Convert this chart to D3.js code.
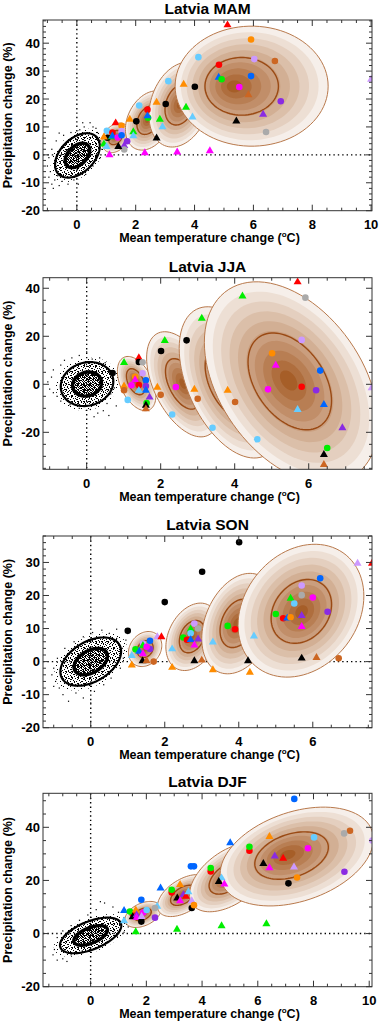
<!DOCTYPE html>
<html>
<head>
<meta charset="utf-8">
<script src="https://cdnjs.cloudflare.com/ajax/libs/d3/7.8.5/d3.min.js"></script>
<style>
  body { margin: 0; background: #fff; }
  svg { display: block; }
  text { font-family: "Liberation Sans", Arial, sans-serif; font-weight: bold; fill: #000; }
</style>
</head>
<body>
<script>
const width = 380;
const height = 1021;

// ---- data ----
// model colours (index used in the marker arrays), 0 = circle, 1 = triangle
const modelColors = ["#000000", "#ff0000", "#ff8c00", "#66ccff", "#cc99ff", "#cc6622",
                     "#0066ff", "#00ee00", "#ff00ff", "#8a2be2", "#aaaaaa"];

const seasons = ["Latvia MAM", "Latvia JJA", "Latvia SON", "Latvia DJF"];

const mamXTicks = [0, 2, 4, 6, 8, 10];
const mamYTicks = [-20, -10, 0, 10, 20, 30, 40];
const jjaXTicks = [0, 2, 4, 6];
const jjaYTicks = [-20, 0, 20, 40];
const sonXTicks = [0, 2, 4, 6];
const sonYTicks = [-20, -10, 0, 10, 20, 30];
const djfXTicks = [0, 2, 4, 6, 8, 10];
const djfYTicks = [-20, 0, 20, 40];

// natural variability ellipse: [meanT, meanP, halfRangeT, halfRangeP, corr]
const mamNoise = [0.02, -0.2, 0.76, 7.95, 0.42];
const jjaNoise = [0.01, 0.1, 0.71, 9.15, 0.12];
const sonNoise = [0.0, 0.0, 0.82, 7.3, 0.42];
const djfNoise = [0.0, -0.7, 1.1, 6.7, 0.55];

// scattered natural variability samples outside the dense core
const mamScatter = [[-0.85,-10.5],[-0.8,-12],[-0.95,-8],[-0.9,-6],[-1.0,-4],[-0.75,-9],[-0.6,-11],[-0.5,-9.5],[-0.3,-10.5],[-0.1,-9],[0.05,-10.5],[0.0,-8.5],[0.3,-7],[0.55,-4],[0.8,-1],[0.85,2],[0.8,5],[0.7,8],[0.55,10],[0.45,11.5],[0.25,10],[0.1,9],[-0.2,8],[-0.45,7],[-0.7,5],[-0.85,2],[-0.95,-1],[0.65,9.5],[0.9,4],[-0.65,-7.5],[-0.6,7.8],[0.2,11.5]];
const jjaScatter = [[-1.05,1],[-1.0,-2],[-0.95,3],[-0.9,6],[-0.8,-5],[-0.7,8],[-0.6,10],[-0.4,11],[-0.2,12],[0.0,13.5],[0.15,10.5],[0.35,11],[0.5,9],[0.6,6],[0.7,2],[0.65,-4],[0.55,-8],[0.45,-11],[0.3,-12],[0.6,-13],[0.1,-10.5],[-0.2,-10],[-0.45,-8.5],[-0.7,-7],[-0.9,-3.5],[0.75,-1.5],[0.8,-9],[0.2,-13.5]];
const sonScatter = [[-1.05,-4],[-1.0,-2],[-0.95,-6],[-0.85,-8],[-0.75,-10],[-0.6,-12],[-0.4,-9.5],[-0.2,-11],[0.0,-12.5],[0.1,-9],[0.35,-7],[0.55,-5],[0.8,-2],[0.88,1],[0.85,4],[0.7,7],[0.5,8.5],[0.3,9.5],[0.05,8.8],[-0.2,7.5],[-0.45,6],[-0.7,4],[-0.9,1],[0.95,6.5],[0.7,9.8],[-1.0,-7.5]];
const djfScatter = [[-1.35,-8],[-1.3,-6],[-1.2,-10],[-1.1,-4],[-1.0,-9.5],[-0.85,-10.5],[-0.7,-8],[-0.5,-7.5],[-0.3,-6.5],[0.0,-6],[0.3,-4.5],[0.6,-3],[0.95,-1],[1.2,0.5],[1.35,2.5],[1.4,4.5],[1.2,6],[1.0,8],[0.8,10],[0.5,11.5],[0.2,9],[-0.1,7],[-0.4,5],[-0.7,3],[-1.0,1],[-1.2,-1.5],[1.25,9],[0.35,12]];

// projected distributions: [meanT, meanP, halfRangeT, halfRangeP, corr, modeT, modeP]
const mamDists = [
  [1.32, 6.1, 0.47, 5.3, 0.3, 1.3, 6.3],
  [2.45, 12.3, 0.8, 10.6, 0.3, 2.4, 12.5],
  [3.5, 18.0, 1.05, 15.2, 0.25, 3.5, 18.0],
  [5.94, 24.6, 2.6, 21.5, 0.0, 5.29, 24.5]
];
const jjaDists = [
  [1.35, 0.3, 0.52, 11.3, -0.45, 1.3, 1.8],
  [2.6, 0.0, 0.98, 21.9, -0.5, 2.6, 0.3],
  [3.9, 0.8, 1.4, 31.5, -0.45, 3.85, 1.0],
  [5.53, 0.7, 2.35, 42.0, -0.4, 5.45, 1.7]
];
const sonDists = [
  [1.47, 3.8, 0.45, 5.3, 0.2, 1.47, 3.8],
  [2.75, 7.5, 0.72, 10.2, 0.3, 2.73, 7.6],
  [4.0, 11.5, 1.0, 15.2, 0.3, 3.95, 11.6],
  [5.68, 15.4, 1.7, 20.1, 0.22, 5.7, 15.0]
];
const djfDists = [
  [1.88, 7.2, 0.65, 4.9, 0.4, 1.85, 7.3],
  [3.35, 14.3, 0.95, 7.9, 0.5, 3.3, 14.5],
  [5.0, 21.2, 1.45, 13.0, 0.5, 4.9, 21.0],
  [7.4, 29.0, 2.75, 18.6, 0.35, 7.04, 29.7]
];

// model projections: [dT, dP, model, shape]
const mamModels = [
  [5.12,46.5,1,1],[5.92,41.3,2,0],[4.13,35.0,3,0],[6.03,34.3,4,0],[6.73,33.6,5,0],[4.83,32.3,1,0],
  [4.82,27.7,6,1],[4.92,27.1,7,0],[5.92,28.2,6,0],[5.52,24.3,8,0],[3.63,25.2,2,1],[4.01,24.4,0,0],
  [5.83,21.5,5,1],[6.93,19.2,9,0],[6.33,14.5,9,1],[5.42,12.1,0,1],[6.43,8.2,10,0],[10.0,27.0,4,1],
  [3.11,26.4,3,0],[2.71,18.8,2,1],[3.02,18.2,0,0],[3.71,17.0,7,1],[3.93,13.5,3,1],[2.12,17.7,3,0],
  [2.40,16.2,1,0],[2.42,13.3,7,0],[2.40,13.9,6,1],[1.80,12.7,2,1],[2.02,12.0,0,0],[2.82,12.7,7,1],
  [2.91,10.0,3,1],[2.71,6.0,0,1],[1.32,11.4,1,1],[1.02,8.6,3,0],[1.52,10.4,2,0],[1.92,8.2,7,1],
  [1.92,6.8,3,1],[1.04,6.1,0,0],[1.21,8.0,1,0],[1.52,8.5,4,0],[1.19,6.4,7,1],[1.21,6.7,6,1],
  [0.92,6.3,2,1],[1.39,6.2,8,0],[1.52,7.0,6,0],[1.71,4.9,9,0],[1.61,3.3,9,1],[1.61,1.9,10,0],
  [1.41,2.9,0,1],[0.92,3.8,7,1],[1.01,2.9,3,1],[1.11,0.0,8,1],[2.31,0.7,8,1],[3.41,1.0,8,1],[4.52,1.4,8,1]
];
const jjaModels = [
  [5.70,42.6,1,1],[4.21,36.7,7,1],[5.91,36.1,10,0],[3.11,27.4,7,1],[2.70,18.3,0,0],[2.11,18.2,7,1],
  [5.81,18.5,4,0],[2.01,13.9,0,0],[5.01,12.9,2,0],[5.11,7.9,8,1],[6.31,5.7,6,0],[1.01,9.0,7,1],
  [1.41,11.0,1,1],[1.41,9.3,0,0],[1.51,9.2,10,0],[0.70,4.7,0,0],[1.51,4.6,4,0],[1.31,3.1,2,0],
  [1.31,1.8,8,1],[1.60,1.7,6,0],[1.21,-0.4,8,0],[1.41,-0.3,1,0],[1.60,-0.7,9,0],[1.60,-2.5,6,1],
  [1.01,-0.8,2,1],[1.01,-2.5,5,0],[1.41,-2.6,3,1],[1.70,-5.4,9,1],[1.11,-6.5,3,0],[1.62,-7.8,7,0],
  [1.60,-8.8,0,1],[1.60,-10.3,5,1],[1.91,-1.25,2,1],[2.00,-4.4,5,0],[2.41,-1.1,8,0],[2.91,-2.1,2,1],
  [3.00,-6.0,5,0],[2.31,-12.6,3,0],[3.81,-2.5,2,1],[4.01,-7.4,5,0],[3.40,-18.1,3,0],[4.61,-22.9,3,0],
  [4.90,-2.1,8,0],[5.81,-1.0,1,0],[6.20,-2.5,9,0],[6.41,-8.5,6,1],[5.70,-10.6,3,1],[6.91,-18.2,9,1],
  [6.50,-26.5,7,0],[6.41,-29.3,0,1],[6.41,-33.5,5,1],[7.70,-1.5,4,1]
];
const sonModels = [
  [4.01,36.1,0,0],[3.01,27.2,0,0],[2.00,18.0,0,0],[1.00,9.3,0,0],[7.21,29.7,4,1],[7.60,29.7,1,1],
  [6.20,25.2,6,0],[5.70,23.0,4,0],[5.70,20.1,10,0],[6.00,19.4,8,0],[5.40,19.1,7,1],[5.50,17.6,3,0],
  [6.40,15.1,9,0],[5.00,14.4,7,0],[5.20,13.1,1,0],[5.31,13.1,6,1],[5.40,13.4,2,0],[5.70,13.9,9,1],
  [5.70,10.6,8,1],[5.70,1.0,0,1],[6.10,1.2,5,1],[6.70,1.0,5,0],[3.70,10.8,7,0],[3.90,9.8,1,0],
  [4.41,7.7,3,1],[4.25,0.2,0,1],[4.30,-3.3,2,1],[2.80,11.5,4,0],[2.90,10.0,10,0],[2.70,9.8,7,1],
  [2.70,8.6,3,0],[2.50,7.3,7,0],[2.60,6.6,1,0],[2.70,6.6,6,1],[2.90,6.8,9,1],[2.80,5.0,8,1],
  [3.30,5.9,3,1],[2.80,0.2,0,1],[3.00,0.4,5,1],[3.30,-2.5,2,1],[2.20,3.8,3,1],[2.20,-1.8,2,1],
  [1.11,1.8,3,1],[1.11,-1.1,2,1],[1.40,0.2,0,1],[1.51,0.2,5,1],[1.70,0.0,5,0],[1.80,7.5,4,1],
  [1.91,7.5,1,1],[1.60,6.3,6,0],[1.60,3.8,9,0],[1.41,5.5,4,0],[1.41,4.8,7,1],[1.21,3.7,7,0],
  [1.51,4.5,8,0],[1.31,3.1,6,1],[1.41,2.3,8,1]
];
const djfModels = [
  [7.31,50.7,6,0],[9.31,38.7,5,0],[9.10,37.7,10,0],[10.11,35.0,4,0],[8.02,36.2,3,0],[6.42,36.5,2,1],
  [7.80,32.1,8,0],[6.61,29.1,9,1],[6.91,28.3,1,1],[6.20,26.3,0,1],[6.42,24.7,8,1],[7.30,25.0,4,1],
  [9.11,23.3,9,0],[7.41,21.1,2,0],[7.10,18.9,0,0],[5.70,31.2,1,0],[5.70,32.7,7,0],[5.01,34.1,6,1],
  [4.31,23.4,1,0],[4.31,24.7,7,0],[4.70,20.9,3,1],[4.60,19.5,0,1],[4.80,18.6,8,1],[3.60,25.3,6,0],
  [3.71,25.3,6,0],[2.51,17.1,6,1],[3.21,18.4,2,1],[2.91,15.5,1,0],[2.91,16.5,7,0],[3.11,13.3,0,1],
  [3.33,14.6,9,1],[3.42,14.0,1,1],[3.51,15.7,3,1],[3.63,12.3,4,1],[3.21,12.3,8,1],[3.63,9.6,0,0],
  [3.71,10.7,2,0],[1.82,12.7,6,0],[1.20,8.6,6,1],[1.20,4.8,3,1],[1.51,7.4,1,0],[1.41,8.3,7,0],
  [1.62,8.8,2,1],[1.51,6.3,0,1],[1.65,7.0,9,1],[1.65,6.0,8,1],[1.82,4.5,0,0],[1.89,7.9,8,0],
  [2.01,8.9,3,0],[1.83,6.4,4,1],[2.39,10.2,3,1],[2.31,9.6,10,0],[2.31,6.0,9,0],[1.62,0.6,7,1],
  [3.10,1.6,7,1],[4.70,2.9,7,1],[6.31,3.6,7,1]
];

// ---- layout ----
const plotLeft = 43, plotRight = 372;
const panels = [
  { title: seasons[0], top: 20, bottom: 210.7, xDomain: [-1.15, 10.03], yDomain: [-20, 48.3],
    xTicks: mamXTicks, yTicks: mamYTicks, yMinor: 2, noise: mamNoise, scatter: mamScatter, dists: mamDists, models: mamModels, hLine: true },
  { title: seasons[1], top: 277.7, bottom: 469.3, xDomain: [-1.18, 7.71], yDomain: [-35.4, 44.4],
    xTicks: jjaXTicks, yTicks: jjaYTicks, yMinor: 5, noise: jjaNoise, scatter: jjaScatter, dists: jjaDists, models: jjaModels, hLine: false },
  { title: seasons[2], top: 536, bottom: 727.7, xDomain: [-1.29, 7.6], yDomain: [-20, 38],
    xTicks: sonXTicks, yTicks: sonYTicks, yMinor: 2, noise: sonNoise, scatter: sonScatter, dists: sonDists, models: sonModels, hLine: true },
  { title: seasons[3], top: 793.3, bottom: 986.7, xDomain: [-1.71, 10.1], yDomain: [-20, 52.8],
    xTicks: djfXTicks, yTicks: djfYTicks, yMinor: 5, noise: djfNoise, scatter: djfScatter, dists: djfDists, models: djfModels, hLine: true }
];

const svg = d3.select("body").append("svg")
  .attr("width", width)
  .attr("height", height);

// speckle textures for the dense natural-variability cloud
const defs = svg.append("defs");
const speckles = [
  { id: "spk-sparse", size: 7, dots: [[0,0],[4,2],[1,4],[5,6]] },
  { id: "spk-mid", size: 6, dots: [[0,0],[3,0],[5,1],[1,2],[4,3],[2,4],[0,5],[5,5]] },
  { id: "spk-dense", size: 5, dots: [[0,0],[1,0],[3,0],[2,1],[4,1],[0,2],[3,2],[1,3],[4,3],[2,4],[3,4]] }
];
speckles.forEach(p => {
  const pat = defs.append("pattern").attr("id", p.id)
    .attr("patternUnits", "userSpaceOnUse")
    .attr("width", p.size).attr("height", p.size);
  pat.selectAll("rect").data(p.dots).join("rect")
    .attr("x", d => d[0]).attr("y", d => d[1])
    .attr("width", 1).attr("height", 1).attr("fill", "#000");
});

const shade = d3.interpolateRgb("#f6efea", "#a65e28");
const nBands = 10;

function ellipsePts(cx, cy, rx, ry, rho, s) {
  const q = Math.sqrt(1 - rho * rho);
  return d3.range(0, 360, 4).map(a => {
    const t = a * Math.PI / 180, u = Math.cos(t), v = Math.sin(t);
    return [cx + s * rx * u, cy + s * ry * (rho * u + q * v)];
  });
}

panels.forEach((p, pi) => {
  const x = d3.scaleLinear().domain(p.xDomain).range([plotLeft, plotRight]);
  const y = d3.scaleLinear().domain(p.yDomain).range([p.bottom, p.top]);
  const line = d3.line().x(d => x(d[0])).y(d => y(d[1])).curve(d3.curveLinearClosed);

  const g = svg.append("g");
  const clipId = "clip" + pi;
  defs.append("clipPath").attr("id", clipId).append("rect")
    .attr("x", plotLeft).attr("y", p.top)
    .attr("width", plotRight - plotLeft).attr("height", p.bottom - p.top);

  const plot = g.append("g").attr("clip-path", `url(#${clipId})`);

  // zero lines
  plot.append("line")
    .attr("x1", x(0)).attr("x2", x(0)).attr("y1", p.top).attr("y2", p.bottom)
    .attr("stroke", "#000").attr("stroke-width", 1.4).attr("stroke-dasharray", "1.4 3");
  if (p.hLine) {
    plot.append("line")
      .attr("x1", plotLeft).attr("x2", plotRight).attr("y1", y(0)).attr("y2", y(0))
      .attr("stroke", "#000").attr("stroke-width", 1.4).attr("stroke-dasharray", "1.4 3");
  }

  // natural variability cloud
  const [nx, ny, nrx, nry, nrho] = p.noise;
  plot.append("path").attr("d", line(ellipsePts(nx, ny, nrx, nry, nrho, 1.2))).attr("fill", "url(#spk-sparse)");
  plot.append("path").attr("d", line(ellipsePts(nx, ny, nrx, nry, nrho, 1.0))).attr("fill", "url(#spk-mid)");
  plot.append("path").attr("d", line(ellipsePts(nx, ny, nrx, nry, nrho, 0.55))).attr("fill", "url(#spk-dense)");
  plot.append("g").selectAll("rect").data(p.scatter).join("rect")
    .attr("x", d => x(d[0]) - 0.6).attr("y", d => y(d[1]) - 0.6)
    .attr("width", 1.2).attr("height", 1.2).attr("fill", "#000");
  plot.append("path").attr("d", line(ellipsePts(nx, ny, nrx, nry, nrho, 1.0)))
    .attr("fill", "none").attr("stroke", "#000").attr("stroke-width", 2.2);
  plot.append("path").attr("d", line(ellipsePts(nx, ny, nrx, nry, nrho, 0.55)))
    .attr("fill", "none").attr("stroke", "#000").attr("stroke-width", 3.4);

  // projected distributions, shaded
  p.dists.forEach(dd => {
    const [cx, cy, rx, ry, rho, mx, my] = dd;
    const dg = plot.append("g");
    for (let i = 0; i < nBands; i++) {
      const s = 1 - i / nBands;
      dg.append("path")
        .attr("d", line(ellipsePts(mx + s * (cx - mx), my + s * (cy - my), rx, ry, rho, s)))
        .attr("fill", shade(i / (nBands - 1)));
    }
    dg.append("path").attr("d", line(ellipsePts(cx, cy, rx, ry, rho, 1)))
      .attr("fill", "none").attr("stroke", "#b8794c").attr("stroke-width", 1);
    const si = 0.48;
    dg.append("path").attr("d", line(ellipsePts(mx + si * (cx - mx), my + si * (cy - my), rx, ry, rho, si)))
      .attr("fill", "none").attr("stroke", "#9a4a14").attr("stroke-width", 1.4);
  });

  // model markers
  const tri = d3.symbol(d3.symbolTriangle, 28);
  plot.append("g").selectAll("path").data(p.models).join("path")
    .attr("transform", d => `translate(${x(d[0])},${y(d[1])})`)
    .attr("d", d => d[3] === 1 ? tri() : d3.symbol(d3.symbolCircle, 34)())
    .attr("fill", d => modelColors[d[2]]);

  // frame
  g.append("rect")
    .attr("x", plotLeft).attr("y", p.top)
    .attr("width", plotRight - plotLeft).attr("height", p.bottom - p.top)
    .attr("fill", "none").attr("stroke", "#333").attr("stroke-width", 1);

  // ticks on all four sides, inward
  const xMinor = d3.range(Math.ceil(p.xDomain[0] / 0.5) * 0.5, p.xDomain[1] + 1e-9, 0.5);
  const yMinor = d3.range(Math.ceil(p.yDomain[0] / p.yMinor) * p.yMinor, p.yDomain[1] + 1e-9, p.yMinor);
  const tk = g.append("g").attr("stroke", "#333").attr("stroke-width", 1);
  xMinor.forEach(v => {
    const len = p.xTicks.includes(Math.round(v * 100) / 100) ? 6 : 3;
    tk.append("line").attr("x1", x(v)).attr("x2", x(v)).attr("y1", p.bottom).attr("y2", p.bottom - len);
    tk.append("line").attr("x1", x(v)).attr("x2", x(v)).attr("y1", p.top).attr("y2", p.top + len);
  });
  yMinor.forEach(v => {
    const len = p.yTicks.includes(Math.round(v * 100) / 100) ? 6 : 3;
    tk.append("line").attr("y1", y(v)).attr("y2", y(v)).attr("x1", plotLeft).attr("x2", plotLeft + len);
    tk.append("line").attr("y1", y(v)).attr("y2", y(v)).attr("x1", plotRight).attr("x2", plotRight - len);
  });

  g.append("g").selectAll("text").data(p.xTicks).join("text")
    .attr("x", d => x(d)).attr("y", p.bottom + 18.5)
    .attr("text-anchor", "middle").attr("font-size", 13)
    .text(d => d);
  g.append("g").selectAll("text").data(p.yTicks).join("text")
    .attr("x", plotLeft - 3).attr("y", d => y(d)).attr("dy", "0.36em")
    .attr("text-anchor", "end").attr("font-size", 13)
    .text(d => d);

  // titles
  g.append("text")
    .attr("x", (plotLeft + plotRight) / 2).attr("y", p.top - 6)
    .attr("text-anchor", "middle").attr("font-size", 15.5)
    .text(p.title);

  const xt = g.append("text")
    .attr("x", (plotLeft + plotRight) / 2 + 2).attr("y", p.bottom + 31.5)
    .attr("text-anchor", "middle").attr("font-size", 12.5);
  xt.append("tspan").text("Mean temperature change (");
  xt.append("tspan").attr("font-size", 8).attr("dy", -5).text("o");
  xt.append("tspan").attr("dy", 5).text("C)");

  g.append("text")
    .attr("transform", `translate(12,${(p.top + p.bottom) / 2}) rotate(-90)`)
    .attr("text-anchor", "middle").attr("font-size", 12.5)
    .text("Precipitation change (%)");
});
</script>
</body>
</html>
